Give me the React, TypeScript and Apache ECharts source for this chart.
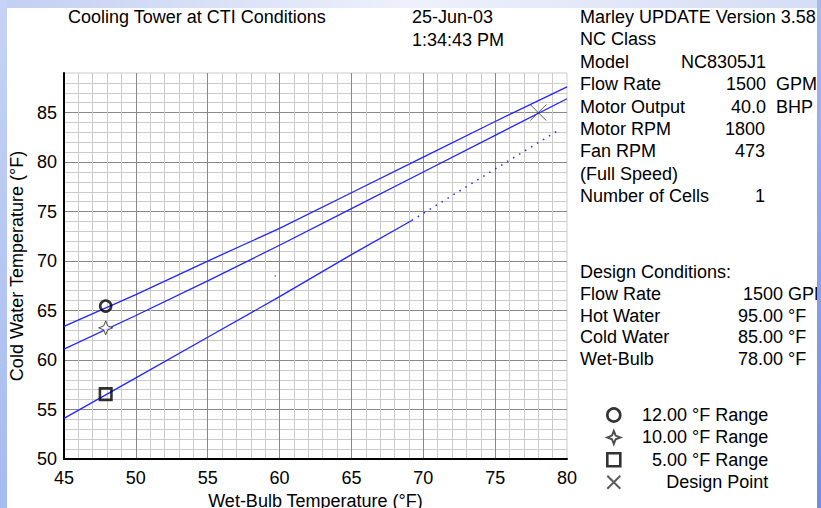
import React, { useEffect, useRef } from 'react';
import * as echarts from 'echarts';

const FONT = '"Liberation Sans", Arial, Helvetica, sans-serif';
const FS = 18;

// ---- data ----
const wetBulb = [45, 50, 55, 60, 65, 70, 75, 80];
const cold12Range = [63.4, 66.6, 70.0, 73.3, 76.9, 80.5, 84.1, 87.6];
const cold10Range = [61.1, 64.5, 68.0, 71.6, 75.3, 79.0, 82.7, 86.4];
const wetBulb5Solid = [45, 50, 55, 60, 65, 69.2];
const cold5Solid = [54.1, 58.2, 62.3, 66.4, 70.65, 74.1];
const wetBulb5Dotted = [69.2, 75, 79.4];
const cold5Dotted = [74.1, 79.3, 83.2];

const markerWetBulb = 47.9;
const marker12 = 65.45;
const marker10 = 63.25;
const marker5 = 56.55;
const designWetBulb = 78;
const designCold = 85;
const strayPoint = [59.7, 68.5];

const legendNames = ['12.00 °F Range', '10.00 °F Range', '5.00 °F Range', 'Design Point'];

const titleText = 'Cooling Tower at CTI Conditions';
const dateText = '25-Jun-03';
const timeText = '1:34:43 PM';

const infoLabels = ['Marley UPDATE Version 3.58', 'NC Class', 'Model', 'Flow Rate', 'Motor Output', 'Motor RPM', 'Fan RPM', '(Full Speed)', 'Number of Cells'];
const infoValues = ['', '', 'NC8305J1', '1500', '40.0', '1800', '473', '', '1'];
const infoUnits = ['', '', '', 'GPM', 'BHP', '', '', '', ''];

const designTitle = 'Design Conditions:';
const designLabels = ['Flow Rate', 'Hot Water', 'Cold Water', 'Wet-Bulb'];
const designValues = ['1500', '95.00', '85.00', '78.00'];
const designUnits = ['GPM', '°F', '°F', '°F'];

const xName = 'Wet-Bulb Temperature (°F)';
const yName = 'Cold Water Temperature (°F)';

const zip = (xs: number[], ys: number[]) => xs.map((x, i) => [x, ys[i]]);

const txt = (text: string, x: number, y: number, align: string = 'left') => ({
  type: 'text',
  x,
  y,
  z: 10,
  style: {
    text,
    fill: '#000',
    fontSize: FS,
    fontFamily: FONT,
    align,
    verticalAlign: 'middle',
  },
});

const STAR = 'path://M0,-10 L2.8,-2.8 L10,0 L2.8,2.8 L0,10 L-2.8,2.8 L-10,0 L-2.8,-2.8 Z';
const CROSS = 'path://M-10,-10 L10,10 M10,-10 L-10,10';

export default function App() {
  const ref = useRef<HTMLDivElement>(null);

  useEffect(() => {
    if (!ref.current) return;
    const chart = echarts.init(ref.current, null, { renderer: 'svg' });

    const elements: any[] = [];
    elements.push(txt(titleText, 68, 17));
    elements.push(txt(dateText, 412, 17));
    elements.push(txt(timeText, 412, 39.5));
    infoLabels.forEach((l, i) => {
      const y = 17 + i * 22.4;
      elements.push(txt(l, 580, y));
      if (infoValues[i]) {
        if (i === 2) elements.push(txt(infoValues[i], 681, y));
        else if (infoUnits[i]) elements.push(txt(infoValues[i], 766, y, 'right'));
        else elements.push(txt(infoValues[i], 765, y, 'right'));
      }
      if (infoUnits[i]) elements.push(txt(infoUnits[i], 776, y));
    });
    elements.push(txt(designTitle, 580, 272));
    designLabels.forEach((l, i) => {
      const y = 294 + i * 21.7;
      elements.push(txt(l, 580, y));
      elements.push(txt(designValues[i], 783, y, 'right'));
      elements.push(txt(designUnits[i], 788, y));
    });
    // window frame
    elements.push({
      type: 'rect', z: 50, shape: { x: 0, y: 0, width: 821, height: 8 },
      style: {
        fill: new echarts.graphic.LinearGradient(0, 0, 1, 0, [
          { offset: 0, color: '#c2cff2' },
          { offset: 0.5, color: '#eef1fb' },
          { offset: 1, color: '#d4ddf5' },
        ]),
      },
    });
    elements.push({
      type: 'rect', z: 50, shape: { x: 0, y: 0, width: 7, height: 508 },
      style: {
        fill: new echarts.graphic.LinearGradient(0, 0, 0, 1, [
          { offset: 0, color: '#c6d3f4' },
          { offset: 1, color: '#a6bbee' },
        ]),
      },
    });
    elements.push({
      type: 'rect', z: 50, shape: { x: 817, y: 0, width: 4, height: 508 },
      style: {
        fill: new echarts.graphic.LinearGradient(0, 0, 0, 1, [
          { offset: 0, color: '#a4b8f0' },
          { offset: 1, color: '#6f8de2' },
        ]),
      },
    });

    const splitColors = ['#888888', '#cbcbcb', '#cbcbcb', '#cbcbcb', '#cbcbcb'];
    const labelFmt = (v: number) => (Math.round(v) % 5 === 0 ? String(Math.round(v)) : '');

    const lineColor = '#2424ff';

    const option: any = {
      animation: false,
      backgroundColor: '#ffffff',
      textStyle: { fontFamily: FONT },
      grid: {
        left: 64,
        right: 254,
        top: 73,
        bottom: 49,
        show: true,
        borderColor: '#cbcbcb',
        borderWidth: 1,
        backgroundColor: '#ffffff',
        containLabel: false,
        outerBoundsMode: 'none',
      },
      xAxis: {
        type: 'value',
        min: 45,
        max: 80,
        interval: 1,
        name: xName,
        nameLocation: 'middle',
        nameGap: 27,
        nameTextStyle: { fontSize: FS, color: '#000', fontFamily: FONT },
        axisLine: { show: true, onZero: false, lineStyle: { color: '#000', width: 2 } },
        axisTick: { show: false },
        axisLabel: {
          fontSize: FS, color: '#000', fontFamily: FONT, margin: 10,
          formatter: labelFmt, showMinLabel: true, showMaxLabel: true,
        },
        splitLine: { show: true, showMaxLine: false, lineStyle: { color: splitColors, width: 1 } },
      },
      yAxis: {
        type: 'value',
        min: 50,
        max: 89,
        interval: 1,
        name: yName,
        nameLocation: 'middle',
        nameGap: 37,
        nameTextStyle: { fontSize: FS, color: '#000', fontFamily: FONT },
        axisLine: { show: true, onZero: false, lineStyle: { color: '#000', width: 2 } },
        axisTick: { show: false },
        axisLabel: {
          fontSize: FS, color: '#000', fontFamily: FONT, margin: 7,
          formatter: labelFmt, showMinLabel: true, showMaxLabel: true,
        },
        splitLine: { show: true, showMaxLine: false, lineStyle: { color: splitColors, width: 1 } },
      },
      legend: {
        orient: 'vertical',
        left: 606,
        top: 406,
        padding: 0,
        itemWidth: 13,
        itemHeight: 13,
        itemGap: 4.4,
        selectedMode: false,
        data: [
          { name: legendNames[0], itemStyle: { borderWidth: 2.6 } },
          { name: legendNames[1] },
          { name: legendNames[2], itemStyle: { borderWidth: 2.6 } },
          { name: legendNames[3] },
        ],
        formatter: (n: string) => `{r|${n}}`,
        textStyle: {
          rich: {
            r: { width: 143, align: 'right', fontSize: FS, fontFamily: FONT, color: '#000' },
          },
        },
      },
      graphic: { elements },
      series: [
        {
          name: 'line12', type: 'line', data: zip(wetBulb, cold12Range), showSymbol: false, silent: true, z: 2,
          lineStyle: { color: lineColor, width: 1.3 },
        },
        {
          name: 'line10', type: 'line', data: zip(wetBulb, cold10Range), showSymbol: false, silent: true, z: 2,
          lineStyle: { color: lineColor, width: 1.3 },
        },
        {
          name: 'line5', type: 'line', data: zip(wetBulb5Solid, cold5Solid), showSymbol: false, silent: true, z: 2,
          lineStyle: { color: lineColor, width: 1.3 },
        },
        {
          name: 'line5dotted', type: 'line', data: zip(wetBulb5Dotted, cold5Dotted), showSymbol: false, silent: true, z: 2,
          lineStyle: { color: lineColor, width: 1.5, type: [1.5, 5.5] },
        },
        {
          name: 'stray', type: 'scatter', data: [strayPoint], symbol: 'rect', symbolSize: 1.5, silent: true, z: 2,
          itemStyle: { color: '#556' },
        },
        {
          name: legendNames[0], type: 'scatter', data: [[markerWetBulb, marker12]], symbol: 'circle', symbolSize: 11, z: 5,
          itemStyle: { color: 'rgba(255,255,255,0)', borderColor: '#000', borderWidth: 2.6 },
        },
        {
          name: legendNames[1], type: 'scatter', data: [[markerWetBulb, marker10]], symbol: STAR, symbolSize: 14, z: 5,
          itemStyle: { color: '#ffffff', borderColor: '#222', borderWidth: 1 },
        },
        {
          name: legendNames[2], type: 'scatter', data: [[markerWetBulb, marker5]], symbol: 'rect', symbolSize: 11.5, z: 5,
          itemStyle: { color: 'rgba(255,255,255,0)', borderColor: '#000', borderWidth: 2.6 },
        },
        {
          name: legendNames[3], type: 'scatter', data: [[designWetBulb, designCold]], symbol: CROSS, symbolSize: 16, z: 5,
          itemStyle: { color: 'rgba(0,0,0,0)', borderColor: '#333', borderWidth: 1 },
        },
      ],
    };

    chart.setOption(option);
    return () => chart.dispose();
  }, []);

  return (
    <div
      ref={ref}
      style={{ position: 'fixed', left: 0, top: 0, width: 821, height: 508, background: '#fff' }}
    />
  );
}
